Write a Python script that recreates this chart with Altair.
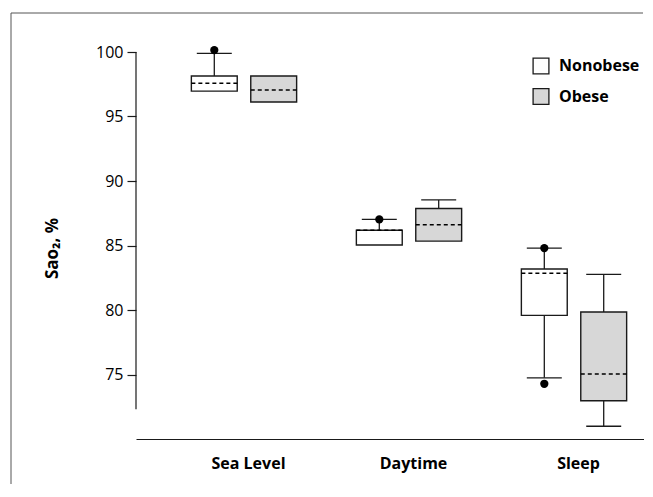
import altair as alt
import pandas as pd

# ---- data ----
conditions = ["Sea Level", "Daytime", "Sleep"]
groups = ["Nonobese", "Obese"]

box_condition = ["Sea Level", "Sea Level", "Daytime", "Daytime", "Sleep", "Sleep"]
box_group = ["Nonobese", "Obese", "Nonobese", "Obese", "Nonobese", "Obese"]
q1 = [96.97, 96.12, 85.04, 85.34, 79.58, 72.96]
median = [97.57, 97.05, 86.18, 86.61, 82.84, 75.03]
q3 = [98.14, 98.14, 86.18, 87.87, 83.18, 79.84]
whisker_low = [96.97, 96.12, 85.04, 85.34, 74.74, 70.99]
whisker_high = [99.90, 98.14, 87.02, 88.53, 84.80, 82.76]

outlier_condition = ["Sea Level", "Daytime", "Sleep", "Sleep"]
outlier_group = ["Nonobese", "Nonobese", "Nonobese", "Nonobese"]
outlier_value = [100.15, 87.02, 84.80, 74.28]

y_ticks = [75, 80, 85, 90, 95, 100]
y_axis_span = [72.3, 100]
fill_colors = ["#ffffff", "#d7d7d7"]

boxes = pd.DataFrame({
    "condition": box_condition, "group": box_group,
    "q1": q1, "median": median, "q3": q3,
    "lo": whisker_low, "hi": whisker_high,
})
outliers = pd.DataFrame({
    "condition": outlier_condition, "group": outlier_group, "value": outlier_value,
})

cond_js = "[" + ",".join("'%s'" % c for c in conditions) + "]"
grp_js = "[" + ",".join("'%s'" % g for g in groups) + "]"
pos_expr = f"indexof({cond_js}, datum.condition) + (indexof({grp_js}, datum.group) - 0.5) * 0.36"

INK = "#1a1a1a"
FONT = "Open Sans"

xscale = alt.Scale(domain=[-0.6545, 2.4242], nice=False, zero=False)
yscale = alt.Scale(domain=[70, 100], nice=False, zero=False)

xaxis = alt.Axis(
    title=None, values=[0, 1, 2], ticks=False, grid=False,
    labelExpr=f"{cond_js}[datum.value]", labelFlush=False,
    labelFont=FONT, labelFontSize=16, labelFontWeight="bold", labelColor="black",
    labelPadding=16, labelOffset=4,
    domain=True, domainColor=INK, domainWidth=1.2,
)
yaxis = alt.Axis(
    title="Sao₂, %", values=y_ticks, grid=False, domain=False,
    tickSize=9, tickColor=INK, tickWidth=1.2,
    labelFont=FONT, labelFontSize=16, labelColor="black", labelPadding=4,
    titleFont=FONT, titleFontSize=17, titleFontWeight="bold", titleColor="black",
    titleAngle=270, titleAlign="center", titleBaseline="middle",
    titleX=-84, titleY=196,
)


def X(field):
    return alt.X(field, type="quantitative", scale=xscale, axis=xaxis)


def Y(field):
    return alt.Y(field, type="quantitative", scale=yscale, axis=yaxis)


def with_pos(data):
    return alt.Chart(data).transform_calculate(
        pos=pos_expr
    ).transform_calculate(
        b0="datum.pos - 0.139", b1="datum.pos + 0.139",
        c0="datum.pos - 0.106", c1="datum.pos + 0.106",
    )


base = with_pos(boxes)

whisk_up = base.mark_rule(color=INK, strokeWidth=1.3).encode(
    x=X("pos"), y=Y("q3"), y2="hi")
whisk_dn = base.mark_rule(color=INK, strokeWidth=1.3).encode(
    x=X("pos"), y=Y("lo"), y2="q1")
cap_up = base.transform_filter("datum.hi > datum.q3").mark_rule(
    color=INK, strokeWidth=1.3).encode(x=X("c0"), x2="c1", y=Y("hi"))
cap_dn = base.transform_filter("datum.lo < datum.q1").mark_rule(
    color=INK, strokeWidth=1.3).encode(x=X("c0"), x2="c1", y=Y("lo"))

box = base.mark_bar(stroke=INK, strokeWidth=1.4, opacity=1).encode(
    x=X("b0"), x2="b1", y=Y("q1"), y2="q3",
    fill=alt.Fill("group:N", scale=alt.Scale(domain=groups, range=fill_colors),
                  legend=alt.Legend(title=None)),
)
med = base.mark_rule(color="black", strokeWidth=1.5, strokeDash=[4, 3]).encode(
    x=X("b0"), x2="b1", y=Y("median"))

dots = with_pos(outliers).mark_circle(size=68, color="black", opacity=1).encode(
    x=X("pos"), y=Y("value"))

dummy = alt.Data(values=[{}])
y_line = alt.Chart(dummy).mark_rule(color=INK, strokeWidth=1.2).encode(
    x=alt.value(0),
    y=alt.Y(datum=y_axis_span[0], type="quantitative", scale=yscale, axis=yaxis),
    y2=alt.datum(y_axis_span[1]),
)
frame_top = alt.Chart(dummy).mark_rule(color="#555555", strokeWidth=1).encode(
    x=alt.value(-125), x2=alt.value(507), y=alt.value(-39))
frame_left = alt.Chart(dummy).mark_rule(color="#555555", strokeWidth=1).encode(
    x=alt.value(-125), y=alt.value(-39), y2=alt.value(460))

chart = alt.layer(
    frame_top, frame_left, y_line,
    whisk_up, whisk_dn, cap_up, cap_dn, box, med, dots,
).properties(
    width=508, height=387,
    padding={"left": 128, "top": 44, "right": 0, "bottom": 45},
    autosize=alt.AutoSizeParams(type="none"),
).configure(
    font=FONT
).configure_view(
    stroke=None
).configure_legend(
    orient="none", legendX=396, legendY=5, padding=0,
    symbolType="square", symbolSize=250, symbolStrokeColor=INK,
    symbolStrokeWidth=1.3, symbolOpacity=1,
    labelFont=FONT, labelFontSize=16, labelFontWeight="bold", labelColor="black",
    labelOffset=9, rowPadding=8.5, labelLimit=300,
)

chart.save("out.html", embed_options={"renderer": "svg", "actions": False})
